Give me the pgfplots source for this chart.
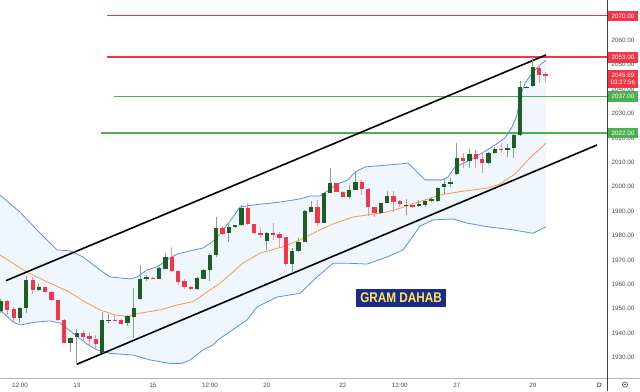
\documentclass[border=0pt]{standalone}
\usepackage{pgfplots}
\pgfplotsset{compat=1.18}
\usepackage{pgfplotstable}
\usepackage{fontspec}
\setmainfont{Liberation Sans}
\definecolor{cgreen}{HTML}{1E5E22}
\definecolor{cgreenwick}{HTML}{7FA882}
\definecolor{cred}{HTML}{F23645}
\definecolor{credwick}{HTML}{F4939B}
\definecolor{bandline}{HTML}{5B8CF5}
\definecolor{bandfill}{HTML}{EFF6FD}
\definecolor{maline}{HTML}{FF9A3C}
\definecolor{lvlred}{HTML}{F23645}
\definecolor{lvlgreen}{HTML}{4CAF50}
\definecolor{tickgray}{HTML}{4A4A4A}
\definecolor{navyb}{HTML}{1B2A8C}
\definecolor{goldt}{HTML}{FFE74C}
\newcommand{\lab}{\fontsize{6.3}{6.8}\selectfont}

\pgfplotstableread{
x o h l c
0 1949.1 1954.0 1948.2 1953.2
3 1946.2 1950.7 1944.1 1950.3
4 1950.3 1963.5 1948.2 1961.8
6 1957.7 1960.4 1957.3 1959.0
11 1936.1 1938.5 1932.4 1937.9
12 1938.3 1941.7 1927.3 1939.9
16 1932.0 1948.5 1931.7 1945.3
17 1945.1 1947.7 1944.0 1945.5
20 1944.0 1947.4 1943.0 1946.9
21 1946.6 1958.5 1938.0 1950.3
22 1953.9 1967.9 1953.6 1962.1
23 1962.1 1963.8 1961.5 1962.9
25 1962.3 1966.9 1962.2 1966.7
26 1966.4 1972.7 1966.3 1971.2
31 1958.0 1963.0 1957.7 1962.6
32 1962.3 1966.3 1962.2 1965.7
33 1965.9 1972.7 1961.5 1971.9
34 1971.9 1987.7 1971.3 1983.1
36 1980.9 1985.0 1977.5 1983.4
37 1983.4 1984.5 1983.1 1984.2
38 1984.2 1992.5 1983.9 1991.2
42 1977.9 1981.4 1974.1 1980.9
46 1968.3 1974.8 1964.8 1973.7
47 1973.7 1978.9 1973.2 1977.5
48 1977.5 1990.5 1977.3 1990.0
49 1989.8 1994.1 1989.6 1991.7
51 1985.3 1997.6 1985.1 1997.3
52 1997.5 2007.5 1997.4 2001.4
55 1995.8 2000.7 1994.8 1998.7
56 1998.7 2006.2 1998.5 2002.1
60 1989.4 1993.3 1988.8 1993.2
61 1993.5 1998.2 1993.3 1996.2
64 1992.1 1995.0 1988.4 1992.5
66 1992.0 1994.6 1991.7 1992.9
67 1992.6 1994.8 1991.6 1994.3
68 1994.3 1995.9 1993.9 1994.8
69 1994.3 1999.7 1993.9 1999.4
70 1999.8 2003.5 1997.0 2001.1
71 2001.0 2003.5 2000.0 2001.9
72 2005.1 2018.0 2004.8 2011.9
74 2010.7 2015.3 2007.5 2013.4
77 2009.8 2014.2 2009.5 2013.9
78 2013.7 2016.1 2013.4 2015.3
80 2015.3 2017.7 2012.0 2016.0
81 2016.0 2021.6 2011.6 2021.2
82 2021.1 2043.2 2020.7 2040.7
83 2040.6 2041.1 2040.5 2041.0
84 2041.3 2053.3 2041.0 2049.2
}\greentab

\pgfplotstableread{
x o h l c
1 1953.2 1953.6 1947.4 1949.5
2 1949.9 1950.8 1944.1 1946.2
5 1961.8 1963.1 1955.9 1957.7
7 1958.9 1959.3 1956.4 1957.0
8 1956.9 1957.3 1953.2 1953.5
9 1953.5 1953.6 1945.0 1945.4
10 1945.4 1945.8 1935.9 1936.1
13 1940.2 1941.3 1936.5 1938.5
14 1938.8 1940.6 1935.1 1937.6
15 1937.7 1939.2 1933.8 1935.4
18 1945.4 1947.4 1945.0 1945.1
19 1945.3 1945.6 1943.7 1943.9
24 1962.6 1962.8 1962.0 1962.3
27 1971.2 1975.2 1965.0 1965.3
28 1965.6 1965.9 1959.7 1961.0
29 1961.5 1962.1 1958.2 1959.0
30 1959.0 1959.3 1957.7 1958.1
35 1983.1 1983.9 1980.4 1980.7
39 1991.2 1993.2 1984.3 1984.7
40 1984.7 1984.9 1980.6 1980.9
41 1980.9 1983.6 1978.9 1980.3
43 1980.9 1985.3 1978.2 1980.5
44 1980.6 1981.6 1975.4 1979.1
45 1979.2 1979.4 1967.5 1968.3
50 1991.6 1994.6 1983.9 1985.3
53 2001.4 2001.5 1997.8 1998.0
54 1998.0 1998.2 1995.8 1995.9
57 2002.1 2002.8 1996.6 1998.9
58 1998.9 1999.3 1988.0 1991.6
59 1991.6 1991.7 1987.7 1989.4
62 1996.0 1998.2 1989.6 1993.7
63 1994.1 1994.4 1991.6 1992.8
65 1992.5 1993.2 1991.2 1992.0
73 2011.9 2013.7 2007.5 2010.7
75 2013.4 2015.0 2007.5 2011.4
76 2011.4 2014.4 2005.5 2009.8
79 2015.5 2017.8 2013.7 2015.2
85 2048.8 2049.9 2042.6 2045.8
86 2046.1 2047.1 2043.0 2045.7
}\redtab

\begin{document}
\begin{tikzpicture}
\path[use as bounding box] (0pt,-13pt) rectangle (640pt,378pt);
\begin{axis}[
  at={(0pt,0pt)}, anchor=south west,
  scale only axis, width=607pt, height=378pt,
  xmin=-0.158, xmax=95.73, ymin=1921.6, ymax=2076.52,
  axis line style={draw=none},
  clip=false,
  major tick length=0pt,
  ytick={1930,1940,...,2070},
  yticklabel pos=right,
  /pgf/number format/assume math mode=true,
  yticklabel={\pgfmathprintnumber[fixed,fixed zerofill,precision=2,1000 sep={}]{\tick}},
  yticklabel style={anchor=west, xshift=4.5pt, inner sep=0pt, font=\lab, text=tickgray},
  xtick={3,12,24,33,42,54,63,72,84},
  xticklabels={12:00,13,15,12:00,20,22,12:00,27,29},
  xticklabel style={anchor=base, yshift=-9.3pt, inner sep=0pt, font=\lab, text=tickgray},
  candle/.style={draw=none, mark=none, forget plot, error bars/.cd, y dir=both, y explicit, error mark=none},
]
% Bollinger band fill
\addplot[fill=bandfill, draw=none] coordinates {
(-0.16,1996.6) (3.0,1989.6) (6.16,1981.0) (8.85,1974.1) (10.9,1973.7) (12.95,1971.2) (15.64,1965.9) (17.22,1963.0) (20.38,1962.2) (21.48,1963.0) (23.06,1965.9) (24.64,1967.1) (26.22,1970.0) (27.8,1972.4) (29.86,1973.7) (31.91,1974.9) (33.33,1977.3) (34.6,1980.6) (36.65,1987.6) (37.76,1991.7) (39.81,1992.5) (44.08,1993.7) (47.24,1995.0) (48.82,1996.2) (50.4,1996.2) (52.45,1999.9) (53.55,2001.5) (54.82,2002.8) (55.92,2006.0) (57.5,2008.1) (61.14,2008.9) (63.03,2009.3) (64.3,2009.7) (65.4,2006.9) (66.98,2002.8) (69.67,2002.8) (70.62,2004.0) (71.72,2008.1) (73.78,2010.5) (75.99,2013.8) (78.04,2017.1) (79.62,2020.0) (80.73,2024.5) (81.52,2029.4) (81.99,2036.8) (82.78,2042.5) (83.89,2046.6) (85.15,2049.9) (86.1,2051.9)
(86.1,1983.6) (84.04,1980.9) (80.88,1982.3) (76.78,1983.6) (73.62,1985.1) (71.41,1986.8) (68.25,1986.4) (66.19,1983.9) (65.09,1979.8) (63.51,1974.1) (60.98,1971.2) (57.82,1968.3) (55.13,1968.6) (52.45,1968.6) (49.92,1963.0) (47.24,1956.3) (43.6,1954.8) (40.44,1950.7) (38.86,1945.4) (34.28,1937.2) (33.49,1935.1) (31.91,1933.1) (29.86,1929.0) (28.59,1927.6) (26.7,1927.6) (23.54,1929.0) (20.85,1931.0) (17.22,1931.7) (15.17,1933.1) (13.59,1935.5) (11.37,1940.0) (9.32,1944.1) (7.74,1945.0) (5.06,1944.4) (3.0,1943.3) (1.9,1944.6) (-0.16,1949.5)
} -- cycle;
% upper band
\addplot[bandline, line width=0.8pt] coordinates {
(-0.16,1996.6) (3.0,1989.6) (6.16,1981.0) (8.85,1974.1) (10.9,1973.7) (12.95,1971.2) (15.64,1965.9) (17.22,1963.0) (20.38,1962.2) (21.48,1963.0) (23.06,1965.9) (24.64,1967.1) (26.22,1970.0) (27.8,1972.4) (29.86,1973.7) (31.91,1974.9) (33.33,1977.3) (34.6,1980.6) (36.65,1987.6) (37.76,1991.7) (39.81,1992.5) (44.08,1993.7) (47.24,1995.0) (48.82,1996.2) (50.4,1996.2) (52.45,1999.9) (53.55,2001.5) (54.82,2002.8) (55.92,2006.0) (57.5,2008.1) (61.14,2008.9) (63.03,2009.3) (64.3,2009.7) (65.4,2006.9) (66.98,2002.8) (69.67,2002.8) (70.62,2004.0) (71.72,2008.1) (73.78,2010.5) (75.99,2013.8) (78.04,2017.1) (79.62,2020.0) (80.73,2024.5) (81.52,2029.4) (81.99,2036.8) (82.78,2042.5) (83.89,2046.6) (85.15,2049.9) (86.1,2051.9)
};
% lower band
\addplot[bandline, line width=0.8pt] coordinates {
(-0.16,1949.5) (1.9,1944.6) (3.0,1943.3) (5.06,1944.4) (7.74,1945.0) (9.32,1944.1) (11.37,1940.0) (13.59,1935.5) (15.17,1933.1) (17.22,1931.7) (20.85,1931.0) (23.54,1929.0) (26.7,1927.6) (28.59,1927.6) (29.86,1929.0) (31.91,1933.1) (33.49,1935.1) (34.28,1937.2) (38.86,1945.4) (40.44,1950.7) (43.6,1954.8) (47.24,1956.3) (49.92,1963.0) (52.45,1968.6) (55.13,1968.6) (57.82,1968.3) (60.98,1971.2) (63.51,1974.1) (65.09,1979.8) (66.19,1983.9) (68.25,1986.4) (71.41,1986.8) (73.62,1985.1) (76.78,1983.6) (80.88,1982.3) (84.04,1980.9) (86.1,1983.6)
};
% moving average
\addplot[maline, line width=0.8pt] coordinates {
(-0.16,1972.0) (3.79,1965.5) (6.95,1961.4) (10.43,1957.3) (13.59,1952.3) (15.64,1949.5) (18.01,1947.4) (19.91,1946.8) (21.96,1948.2) (25.12,1949.5) (27.8,1951.5) (30.33,1952.9) (31.44,1954.8) (33.02,1957.7) (34.6,1960.4) (38.23,1968.7) (40.92,1972.8) (44.55,1975.4) (47.24,1978.2) (50.4,1982.3) (52.45,1984.7) (55.61,1987.6) (57.82,1988.4) (60.98,1989.6) (63.03,1991.2) (66.19,1993.9) (69.35,1996.6) (72.51,1998.0) (76.78,1999.4) (78.83,2001.1) (81.2,2005.2) (83.25,2011.0) (86.1,2017.9)
};
% horizontal levels
\addplot[draw=lvlred, line width=1pt] coordinates {(16.75,2070) (95.73,2070)};
\addplot[draw=lvlred, line width=1.8pt] coordinates {(16.75,2053) (95.73,2053)};
\addplot[draw=lvlgreen, line width=1.5pt] coordinates {(17.85,2037) (95.73,2037)};
\addplot[draw=lvlgreen, line width=1.3pt] coordinates {(15.8,2022) (95.73,2022)};
% channel
\addplot[black, line width=1.6pt] coordinates {(0.79,1961.5) (86.1,2054.0)};
\addplot[black, line width=1.6pt] coordinates {(11.96,1927.2) (94.15,2017.1)};
% wicks
\addplot[candle, error bar style={line width=1pt, draw=cgreenwick, solid}]
  table[x=x, y expr={(\thisrow{h}+\thisrow{l})/2}, y error expr={(\thisrow{h}-\thisrow{l})/2}] {\greentab};
\addplot[candle, error bar style={line width=1pt, draw=credwick, solid}]
  table[x=x, y expr={(\thisrow{h}+\thisrow{l})/2}, y error expr={(\thisrow{h}-\thisrow{l})/2}] {\redtab};
% bodies
\addplot[candle, error bar style={line width=4.3pt, draw=cgreen, solid}]
  table[x=x, y expr={(\thisrow{o}+\thisrow{c})/2}, y error expr={max(abs(\thisrow{c}-\thisrow{o})/2,0.22)}] {\greentab};
\addplot[candle, error bar style={line width=4.3pt, draw=cred, solid}]
  table[x=x, y expr={(\thisrow{o}+\thisrow{c})/2}, y error expr={max(abs(\thisrow{c}-\thisrow{o})/2,0.22)}] {\redtab};
\coordinate (l2070) at (axis cs:95.73,2070);
\coordinate (l2053) at (axis cs:95.73,2053);
\coordinate (l2045) at (axis cs:95.73,2045.69);
\coordinate (l2037) at (axis cs:95.73,2037);
\coordinate (l2022) at (axis cs:95.73,2022);
\coordinate (gd) at (axis cs:63.2,1954.4);
\end{axis}
% axis frame lines
\draw[color={rgb,255:red,178;green,181;blue,190}, line width=0.8pt] (0pt,0pt) -- (640pt,0pt);
\node[font=\lab, text=black, anchor=base] at (599.5pt,-9.3pt) {D};
\draw[color={rgb,255:red,60;green,60;blue,60}, line width=1pt] (607.5pt,-13pt) -- (607.5pt,378pt);
\draw[tickgray, line width=0.6pt] (625pt,-6.5pt) circle (2.6pt);
\fill[tickgray] (625pt,-6.5pt) circle (0.8pt);
% price labels
\tikzset{pl/.style={anchor=west, text=white, font=\lab, minimum width=30.5pt, minimum height=10.5pt, inner sep=0pt}}
\node[pl, fill=lvlred] at ([xshift=0.5pt]l2070) {2070.00};
\node[pl, fill=lvlred] at ([xshift=0.5pt]l2053) {2053.00};
\node[pl, fill=lvlred, minimum height=17.3pt, align=center, yshift=-3.65pt] at ([xshift=0.5pt]l2045) {2045.69\\03:27:56};
\node[pl, fill=lvlgreen] at ([xshift=0.5pt]l2037) {2037.00};
\node[pl, fill=lvlgreen] at ([xshift=0.5pt]l2022) {2022.00};
% title box
\node[fill=navyb, text=goldt, font=\bfseries\fontsize{14}{14}\selectfont, minimum width=90pt, minimum height=18pt, inner sep=0pt] at (gd) {\scalebox{0.84}[1]{GRAM DAHAB}};
\end{tikzpicture}
\end{document}
